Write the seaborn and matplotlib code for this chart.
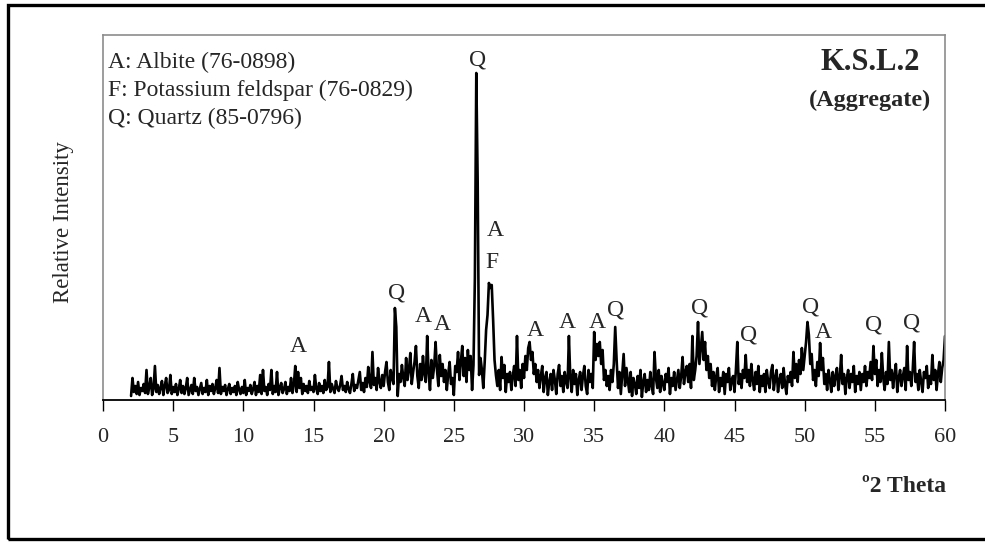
import numpy as np
import pandas as pd
import seaborn as sns
import matplotlib.pyplot as plt
from matplotlib.patches import Rectangle

# 2-theta grid (0.1 deg steps) and intensity, one row per degree
two_theta = np.round(np.arange(2.0, 60.01, 0.1), 1)
intensity = [
    4, 22, 8, 14, 6, 18, 5, 12, 9, 16,        # 2
    7, 30, 6, 13, 22, 5, 11, 34, 8, 15,       # 3
    6, 12, 19, 5, 14, 22, 7, 10, 25, 6,       # 4
    13, 8, 16, 5, 11, 20, 7, 14, 6, 12,       # 5
    22, 5, 10, 15, 6, 22, 9, 13, 5, 11,       # 6
    17, 6, 12, 8, 20, 5, 14, 9, 16, 6,        # 7
    12, 20, 7, 32, 6, 13, 9, 15, 5, 11,       # 8
    16, 6, 12, 8, 14, 5, 18, 10, 6, 13,       # 9
    7, 20, 5, 12, 9, 15, 6, 11, 18, 5,        # 10
    14, 8, 25, 6, 30, 9, 13, 5, 16, 10,       # 11
    30, 6, 14, 8, 28, 5, 12, 17, 7, 11,       # 12
    18, 6, 13, 9, 22, 7, 15, 34, 8, 28,       # 13
    12, 22, 6, 16, 9, 14, 7, 19, 10, 13,      # 14
    8, 25, 11, 6, 17, 9, 14, 7, 20, 10,       # 15
    13, 38, 8, 16, 11, 7, 19, 12, 9, 15,      # 16
    24, 10, 14, 8, 18, 11, 7, 16, 26, 9,      # 17
    15, 12, 20, 28, 10, 17, 8, 22, 13, 33,    # 18
    18, 12, 48, 15, 22, 10, 32, 18, 12, 25,   # 19
    14, 28, 38, 18, 10, 30, 22, 16, 92, 73,   # 20
    4, 26, 18, 35, 22, 14, 42, 20, 30, 47,    # 21
    16, 28, 38, 54, 24, 12, 36, 20, 44, 26,   # 22
    18, 64, 28, 10, 40, 22, 34, 58, 30, 14,   # 23
    45, 24, 36, 18, 30, 10, 26, 38, 16, 22,   # 24
    5, 34, 28, 48, 20, 38, 54, 24, 42, 18,    # 25
    50, 30, 44, 10, 35, 122, 327, 217, 25, 42,  # 26
    30, 12, 38, 70, 85, 117, 112, 115, 80, 40,  # 27
    25, 14, 30, 10, 43, 22, 35, 8, 26, 18,    # 28
    28, 10, 24, 34, 14, 64, 20, 30, 12, 36,   # 29
    22, 44, 30, 52, 58, 40, 48, 26, 36, 18,   # 30
    30, 12, 24, 34, 8, 22, 28, 5, 18, 26,     # 31
    10, 30, 20, 6, 26, 35, 14, 24, 8, 28,     # 32
    18, 12, 64, 22, 8, 30, 16, 26, 5, 20,     # 33
    28, 10, 24, 34, 14, 6, 30, 18, 26, 12,    # 34
    68, 40, 56, 44, 58, 36, 50, 20, 30, 14,   # 35
    24, 10, 30, 18, 36, 73, 40, 12, 28, 6,    # 36
    26, 46, 14, 32, 20, 8, 28, 4, 22, 16,     # 37
    6, 24, 12, 30, 3, 18, 26, 8, 20, 10,      # 38
    28, 14, 6, 48, 22, 12, 30, 8, 24, 16,     # 39
    10, 26, 18, 32, 6, 22, 14, 28, 10, 20,    # 40
    30, 12, 24, 43, 16, 28, 34, 18, 36, 12,   # 41
    64, 20, 30, 44, 78, 36, 52, 68, 40, 58,   # 42
    30, 44, 22, 36, 14, 28, 10, 24, 32, 8,    # 43
    22, 14, 28, 6, 26, 18, 32, 10, 20, 24,    # 44
    8, 30, 58, 16, 26, 12, 30, 22, 45, 18,    # 45
    30, 14, 36, 20, 10, 28, 16, 34, 8, 24,    # 46
    14, 26, 8, 30, 18, 12, 28, 35, 10, 22,    # 47
    30, 8, 20, 26, 12, 32, 16, 6, 24, 18,     # 48
    28, 14, 48, 22, 36, 18, 40, 26, 52, 30,   # 49
    44, 58, 78, 65, 36, 46, 20, 30, 14, 38,   # 50
    24, 57, 30, 42, 16, 26, 10, 30, 20, 8,    # 51
    28, 14, 24, 32, 10, 22, 45, 16, 26, 6,    # 52
    22, 30, 12, 26, 18, 34, 8, 24, 16, 28,    # 53
    10, 26, 18, 34, 14, 28, 22, 38, 20, 54,   # 54
    26, 40, 14, 30, 18, 47, 22, 10, 28, 16,   # 55
    58, 20, 30, 12, 26, 36, 8, 22, 30, 14,    # 56
    24, 32, 10, 54, 20, 28, 14, 30, 58, 18,   # 57
    26, 10, 30, 18, 8, 28, 22, 34, 12, 24,    # 58
    16, 45, 20, 30, 10, 26, 38, 18, 32, 40,   # 59
    64,                                       # 60
]
assert len(intensity) == len(two_theta)

# phase labels above the peaks
peak_letters = ['A', 'Q', 'A', 'A', 'Q', 'A', 'F', 'A', 'A', 'A', 'Q',
                'Q', 'Q', 'Q', 'A', 'Q', 'Q']
peak_x = [13.9, 20.95, 22.8, 24.2, 26.72, 27.93, 27.72, 30.8, 33.1, 35.2, 36.5,
          42.5, 46.0, 50.4, 51.3, 54.9, 57.6]
peak_y = [53, 107, 83, 75, 340, 170, 137, 70, 77, 78, 90,
          92, 65, 93, 68, 75, 77]

legend_lines = ['A: Albite (76-0898)',
                'F: Potassium feldspar (76-0829)',
                'Q: Quartz (85-0796)']

df = pd.DataFrame({'two_theta': two_theta, 'intensity': intensity})

sns.set_style('white')
plt.rcParams['font.family'] = ['Liberation Serif', 'DejaVu Serif']

fig = plt.figure(figsize=(9.85, 5.42), dpi=100)
ax = fig.add_axes([103 / 985, 1 - 400 / 542, 842 / 985, 365 / 542])

sns.lineplot(data=df, x='two_theta', y='intensity', color='black', linewidth=1.9,
             estimator=None, ax=ax)

ax.set_xlim(0, 60)
ax.set_ylim(0, 365)
ax.set_xticks(range(0, 61, 5))
ax.set_yticks([])
ax.set_xlabel('')
ax.set_ylabel('')
ax.tick_params(axis='x', direction='out', length=8, width=1, color='black',
               labelsize=16, pad=12, bottom=True)
for side in ['top', 'right', 'left']:
    ax.spines[side].set_color('#8c8c8c')
    ax.spines[side].set_linewidth(1.2)
ax.spines['bottom'].set_color('black')
ax.spines['bottom'].set_linewidth(1.3)

for letter, px, py in zip(peak_letters, peak_x, peak_y):
    ax.text(px, py, letter, fontsize=17, ha='center', va='center')

for i, line in enumerate(legend_lines):
    fig.text(108 / 985, 1 - (62 + 28 * i) / 542, line, fontsize=17,
             ha='left', va='center')

fig.text(870 / 985, 1 - 63 / 542, 'K.S.L.2', fontsize=22, fontweight='bold',
         ha='center', va='center')
fig.text(870 / 985, 1 - 100 / 542, '(Aggregate)', fontsize=17.5, fontweight='bold',
         ha='center', va='center')

fig.text(63 / 985, 1 - 222 / 542, 'Relative Intensity', fontsize=16.5,
         rotation=90, ha='center', va='center')
fig.text(946 / 985, 1 - 487 / 542, 'º2 Theta', fontsize=17, fontweight='bold',
         ha='right', va='center')

# outer chart border
fig.patches.append(Rectangle((8 / 985, 3 / 542), 1.0, 1 - 8 / 542,
                             transform=fig.transFigure, fill=False,
                             edgecolor='black', linewidth=2.4))

fig.savefig('out.png', dpi=100)
